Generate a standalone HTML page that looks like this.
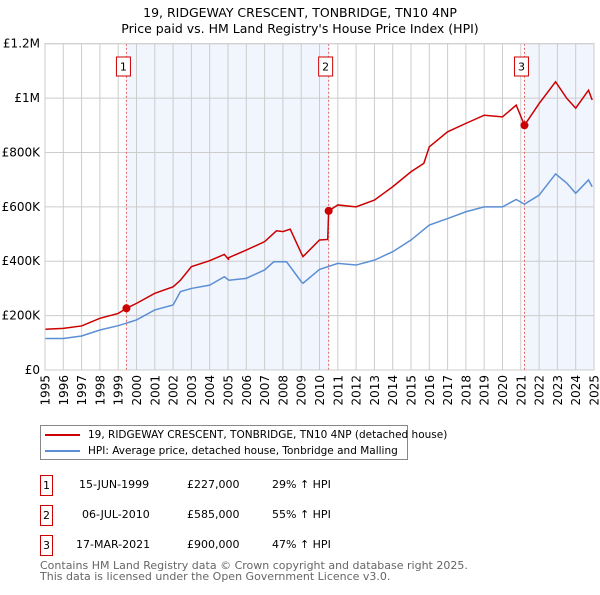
<!DOCTYPE html>
<html><head><meta charset="utf-8"><style>
body{margin:0;background:#fff;font-family:"Liberation Sans","DejaVu Sans",sans-serif;}
svg text{font-family:"DejaVu Sans","Liberation Sans",sans-serif;}
.c{position:absolute;white-space:nowrap}
</style></head><body>
<svg width="600" height="590" viewBox="0 0 600 590">
<g id="root"></g>
</svg>
<script>
const redDates=[1995,1996,1997,1998,1999,1999.45,2000,2001,2002,2002.4,2003,2004,2004.8,2005.05,2005,2006,2007,2007.65,2008,2008.4,2009,2009.1,2010,2010.45,2010.5,2011,2012,2013,2014,2015,2015.7,2016,2017,2018,2019,2020,2020.75,2021.2,2022,2022.9,2023.5,2024,2024.7,2024.9];
const redVals=[150,153,162,190,208,227,245,282,306,330,380,402,425,405,412,441,472,512,509,518,430,417,478,480,585,607,600,625,674,729,760,821,876,907,937,931,974,900,980,1060,1000,963,1029,993];
const hpiDates=[1995,1996,1997,1998,1999,2000,2001,2002,2002.4,2003,2004,2004.8,2005.05,2006,2007,2007.5,2008.2,2009,2009.1,2010,2011,2012,2013,2014,2015,2016,2017,2018,2019,2020,2020.75,2021.2,2022,2022.9,2023.5,2024,2024.7,2024.9];
const hpiVals=[116,116,125,147,163,184,221,239,288,300,312,343,330,337,368,398,398,325,319,370,392,386,404,435,478,533,557,582,600,600,627,610,643,721,688,650,699,674];
const saleDates=[1999.45,2010.5,2021.2];
const saleVals=[227,585,900];
const saleLabels=["1","2","3"];
const yTicks=[0,200,400,600,800,1000,1200];
const yTickLabels=["£0","£200K","£400K","£600K","£800K","£1M","£1.2M"];
const xYears=[1995,1996,1997,1998,1999,2000,2001,2002,2003,2004,2005,2006,2007,2008,2009,2010,2011,2012,2013,2014,2015,2016,2017,2018,2019,2020,2021,2022,2023,2024,2025];
const L=45,R=594,T=43.7,B=370;
const xS=y=>L+(y-1995)/30*(R-L);
const yS=v=>B-v/1200*(B-T);
const NS="http://www.w3.org/2000/svg";
const root=document.getElementById('root');
function mk(tag,attrs,parent){const e=document.createElementNS(NS,tag);for(const k in attrs)e.setAttribute(k,attrs[k]);(parent||root).appendChild(e);return e;}
function tx(x,y,s,attrs){const e=mk('text',Object.assign({x:x,y:y},attrs||{}));e.textContent=s;return e;}
let t1=tx(300,17,"19, RIDGEWAY CRESCENT, TONBRIDGE, TN10 4NP",{"text-anchor":"middle","font-size":"12.5"});


let t2=tx(300,33,"Price paid vs. HM Land Registry's House Price Index (HPI)",{"text-anchor":"middle","font-size":"12.5"});


const shades=[[saleDates[0],saleDates[1]],[saleDates[2],2025]];
shades.forEach(s=>{const r=mk('rect',{x:xS(s[0]),y:T,width:xS(s[1])-xS(s[0]),height:B-T,fill:"#eef3fc",opacity:"0.8"});

});
xYears.forEach(y=>{const l=mk('line',{x1:xS(y),x2:xS(y),y1:T,y2:B,stroke:"#cccccc","stroke-width":"1"});


const lx=xS(y)+4.5, ly=375;
const lb=tx(lx,ly,String(y),{"text-anchor":"end","font-size":"12",transform:"rotate(-90 "+lx+" "+ly+")"});

});
yTicks.forEach((v,i)=>{const l=mk('line',{x1:L,x2:R,y1:yS(v),y2:yS(v),stroke:"#cccccc","stroke-width":"1"});


const lb=tx(40,yS(v)+4,yTickLabels[i],{"text-anchor":"end","font-size":"12"});

});
saleDates.forEach((d,i)=>{const l=mk('line',{x1:xS(d),x2:xS(d),y1:T,y2:B,stroke:"#e06060","stroke-width":"1","stroke-dasharray":"2,2"});


const bx=mk('rect',{x:xS(d)-10,y:57,width:14,height:19,fill:"#fff",stroke:"#cc0000","stroke-width":"1"});


const lb=tx(xS(d)-3,70.5,saleLabels[i],{"text-anchor":"middle","font-size":"11"});

});
const hp=mk('polyline',{points:hpiDates.map((d,i)=>xS(d)+","+yS(hpiVals[i])).join(" "),fill:"none",stroke:"#5b8fd4","stroke-width":"1.5"});


const rp=mk('polyline',{points:redDates.map((d,i)=>xS(d)+","+yS(redVals[i])).join(" "),fill:"none",stroke:"#cc0000","stroke-width":"1.5"});


saleDates.forEach((d,i)=>{const c=mk('circle',{cx:xS(d),cy:yS(saleVals[i]),r:4,fill:"#cc0000"});

});
mk('rect',{x:L,y:T,width:R-L,height:B-T,fill:"none",stroke:"#cccccc"});
</script>
<div style="position:absolute;left:40px;top:425px;width:368px;height:35px;border:1px solid #888;box-sizing:border-box;font-family:'DejaVu Sans','Liberation Sans',sans-serif;font-size:10.5px;">
 <div style="position:absolute;left:4px;top:3px;white-space:nowrap"><span style="display:inline-block;width:35px;height:2px;background:#cc0000;vertical-align:middle;margin-right:8px"></span>19, RIDGEWAY CRESCENT, TONBRIDGE, TN10 4NP (detached house)</div>
 <div style="position:absolute;left:4px;top:19px;white-space:nowrap"><span style="display:inline-block;width:35px;height:2px;background:#5b8fd4;vertical-align:middle;margin-right:8px"></span>HPI: Average price, detached house, Tonbridge and Malling</div>
</div>
<div style="position:absolute;left:0;top:0;width:600px;font-family:'DejaVu Sans','Liberation Sans',sans-serif;font-size:11px;">
 <div><div class="c" style="left:40px;top:475px;width:11px;height:19px;border:1px solid #cc0000;text-align:center;line-height:19px">1</div><div class="c" style="left:79px;top:478px">15-JUN-1999</div><div class="c" style="left:187px;top:478px">£227,000</div><div class="c" style="left:272px;top:478px">29% ↑ HPI</div></div>
 <div><div class="c" style="left:40px;top:505px;width:11px;height:19px;border:1px solid #cc0000;text-align:center;line-height:19px">2</div><div class="c" style="left:82px;top:508px">06-JUL-2010</div><div class="c" style="left:187px;top:508px">£585,000</div><div class="c" style="left:272px;top:508px">55% ↑ HPI</div></div>
 <div><div class="c" style="left:40px;top:535px;width:11px;height:19px;border:1px solid #cc0000;text-align:center;line-height:19px">3</div><div class="c" style="left:76px;top:538px">17-MAR-2021</div><div class="c" style="left:187px;top:538px">£900,000</div><div class="c" style="left:272px;top:538px">47% ↑ HPI</div></div>
</div>
<div style="position:absolute;left:40px;top:561px;white-space:nowrap;font-family:'DejaVu Sans','Liberation Sans',sans-serif;font-size:11px;color:#666;line-height:10.5px">Contains HM Land Registry data © Crown copyright and database right 2025.<br>This data is licensed under the Open Government Licence v3.0.</div>
</body></html>
